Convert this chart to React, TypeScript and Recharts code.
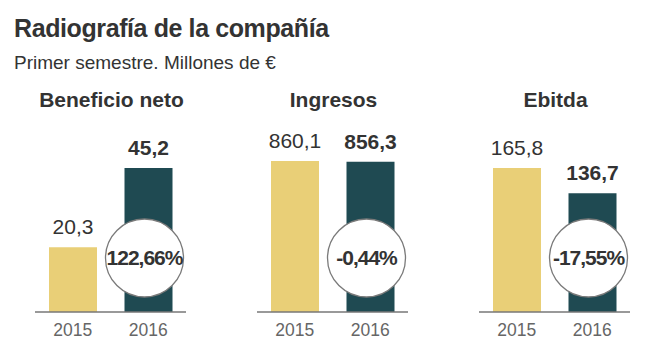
import { BarChart, Bar, XAxis, YAxis, Cell, LabelList } from "recharts";

const years = ["2015", "2016"];
const panelTitles = ["Beneficio neto", "Ingresos", "Ebitda"];
const beneficioNeto = [20.3, 45.2];
const ingresos = [860.1, 856.3];
const ebitda = [165.8, 136.7];
const variaciones = ["122,66%", "-0,44%", "-17,55%"];

const COLORS = ["#E9CF77", "#1F4A52"];
const FONT = '"Liberation Sans", Arial, Helvetica, sans-serif';
const TEXT = "#333333";

const fmt = (v: number) => v.toFixed(1).replace(".", ",");

// posiciones de cada panel: izquierda del área de trazado y margen superior
const panels = [
  { values: beneficioNeto, left: 25, top: 168 },
  { values: ingresos, left: 247, top: 161 },
  { values: ebitda, left: 469, top: 168 },
];

function box(p: any) {
  const vb = p.viewBox ?? {};
  return {
    x: Number(p.x ?? vb.x),
    y: Number(p.y ?? vb.y),
    width: Number(p.width ?? vb.width),
    height: Number(p.height ?? vb.height),
  };
}

function ValueLabel(props: any) {
  const { x, y, width } = box(props);
  const bold = props.index === 1;
  return (
    <text
      x={x + width / 2}
      y={y - 13}
      textAnchor="middle"
      fontFamily={FONT}
      fontSize={21}
      fontWeight={bold ? 700 : 400}
      fill={TEXT}
    >
      {fmt(Number(props.value))}
    </text>
  );
}

function ChangeBadge(props: any) {
  if (props.index !== 1) return null;
  const { x, y, width, height } = box(props);
  const cx = x + width / 2 - 4;
  const cy = y + height - 54;
  return (
    <g>
      <circle cx={cx} cy={cy} r={39} fill="#fff" stroke="#7a7a7a" strokeWidth={1.3} />
      <text
        x={cx}
        y={cy + 7}
        textAnchor="middle"
        fontFamily={FONT}
        fontSize={21}
        fontWeight={700}
        letterSpacing={-1}
        fill={TEXT}
      >
        {props.change}
      </text>
    </g>
  );
}

function Panel({ values, change, left, top }: { values: number[]; change: string; left: number; top: number }) {
  const data = years.map((year, i) => ({ year, value: values[i] }));
  return (
    <div style={{ position: "absolute", left, top: 0 }}>
      <BarChart width={171} height={353} data={data} margin={{ top, right: 10, bottom: 11, left: 10 }}>
        <XAxis
          dataKey="year"
          interval={0}
          axisLine={{ stroke: "#777", strokeWidth: 1.5 }}
          tickLine={false}
          tickSize={0}
          tickMargin={12}
          tick={{ fill: "#666", fontSize: 17.5, fontFamily: FONT }}
        />
        <YAxis hide domain={[0, "dataMax"]} />
        <Bar dataKey="value" barSize={48} isAnimationActive={false}>
          {data.map((d, i) => (
            <Cell key={d.year} fill={COLORS[i]} />
          ))}
          <LabelList dataKey="value" content={ValueLabel} />
          <LabelList dataKey="value" content={(p: any) => <ChangeBadge {...p} change={change} />} />
        </Bar>
      </BarChart>
    </div>
  );
}

export default function App() {
  const centers = panels.map((p) => p.left + 10 + 151 / 2 + 1);
  return (
    <div style={{ position: "absolute", left: 0, top: 0, width: 664, height: 353, background: "#fff", fontFamily: FONT }}>
      {panels.map((p, i) => (
        <Panel key={panelTitles[i]} values={p.values} change={variaciones[i]} left={p.left} top={p.top} />
      ))}
      <svg width={664} height={353} style={{ position: "absolute", left: 0, top: 0, pointerEvents: "none" }}>
        <text x={14} y={37} fontFamily={FONT} fontSize={25} fontWeight={700} letterSpacing={-0.4} fill={TEXT}>
          Radiografía de la compañía
        </text>
        <text x={14} y={69} fontFamily={FONT} fontSize={19} fill={TEXT}>
          Primer semestre. Millones de €
        </text>
        {panelTitles.map((t, i) => (
          <text key={t} x={centers[i]} y={107} textAnchor="middle" fontFamily={FONT} fontSize={21} fontWeight={700} fill={TEXT}>
            {t}
          </text>
        ))}
      </svg>
    </div>
  );
}
